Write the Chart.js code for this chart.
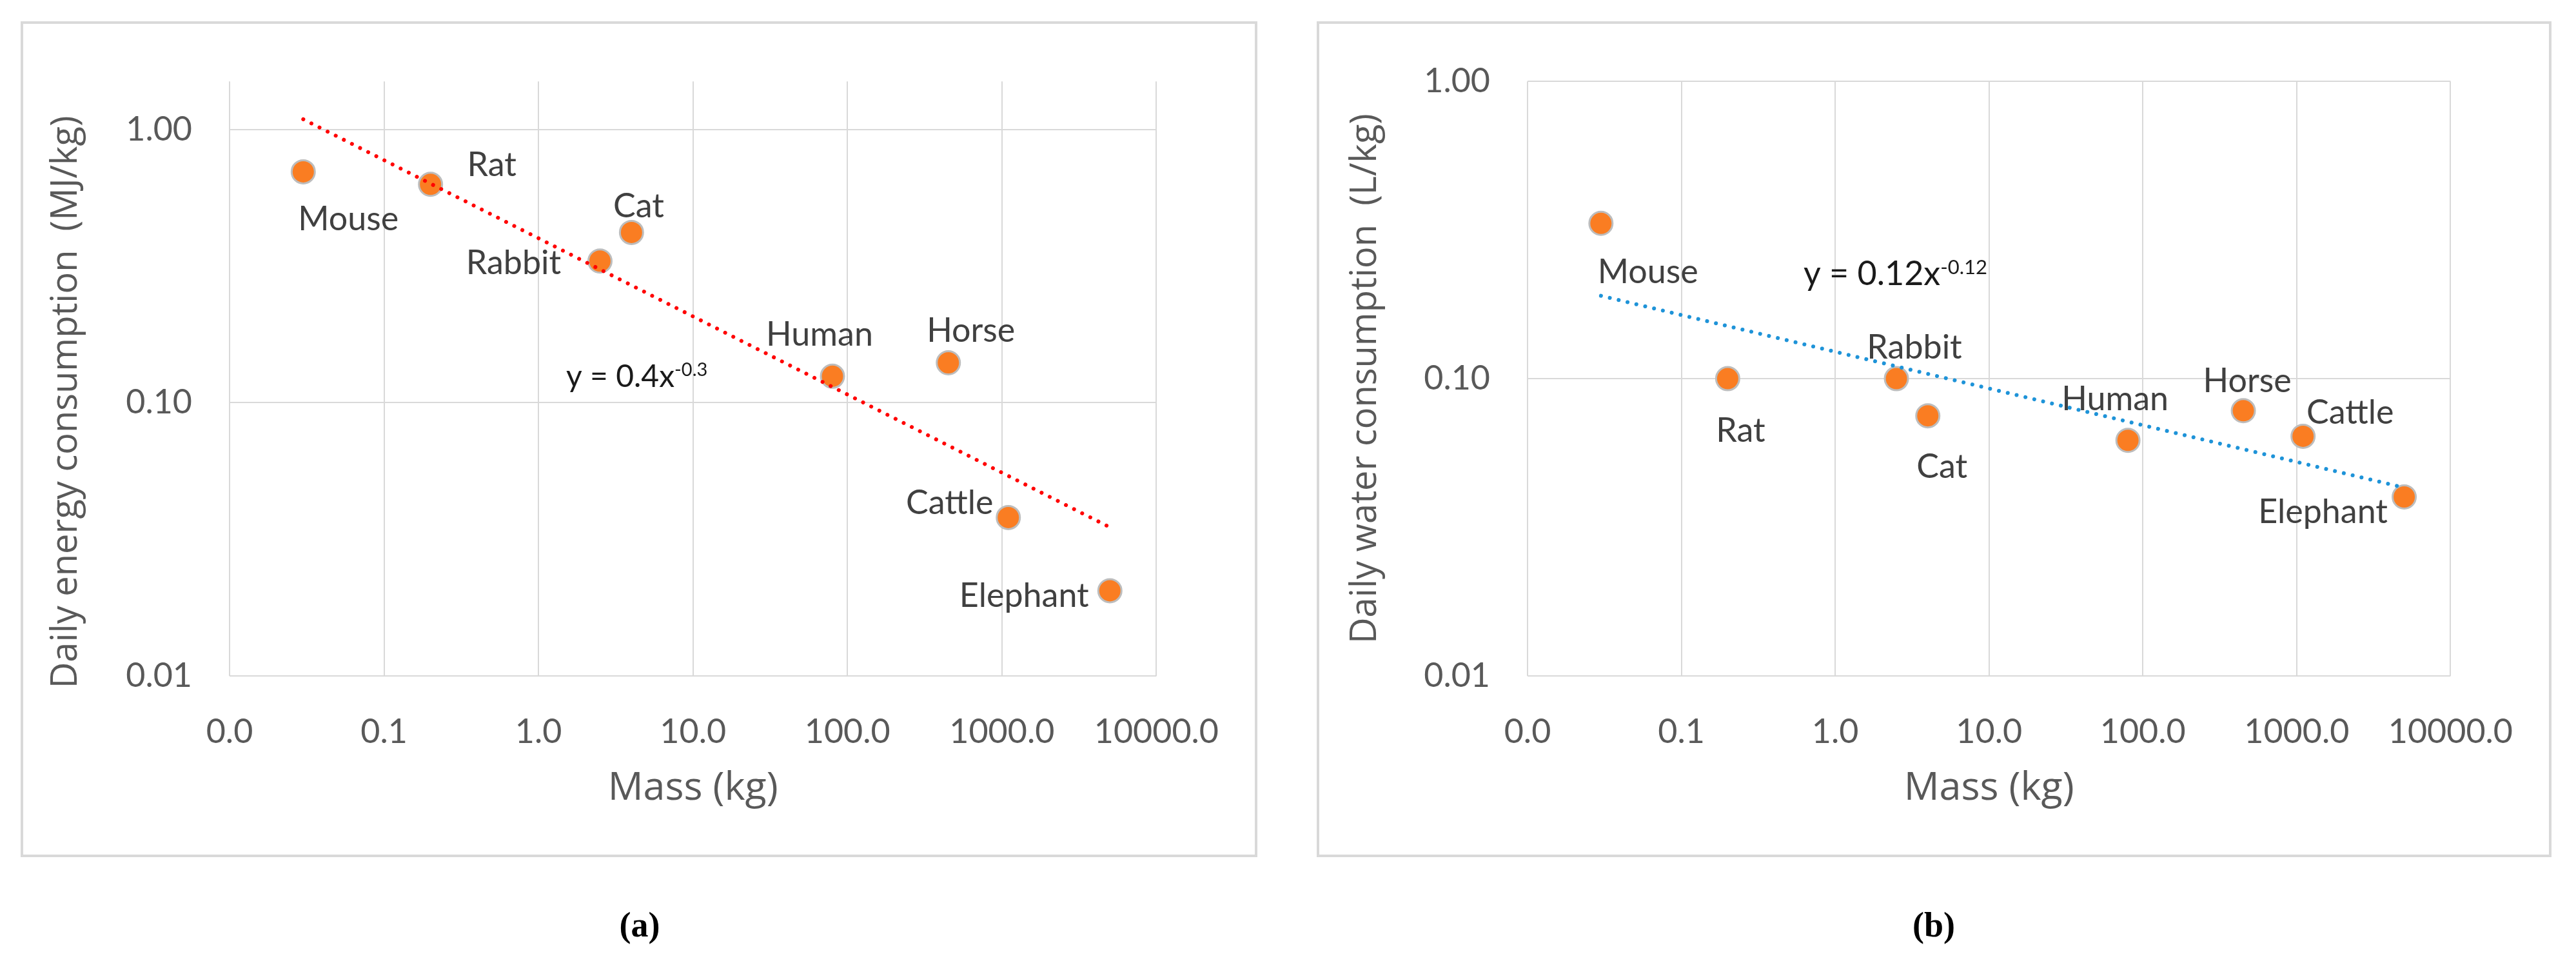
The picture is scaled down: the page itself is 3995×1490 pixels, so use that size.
<!DOCTYPE html>
<html>
<head>
<meta charset="utf-8">
<title>Daily energy and water consumption vs mass</title>
<script src="https://cdn.jsdelivr.net/npm/chart.js@4.4.1/dist/chart.umd.min.js"></script>
<style>
  html, body { margin: 0; padding: 0; background: #fff; }
  body { width: 3995px; height: 1490px; position: relative; overflow: hidden; }
  .panel { position: absolute; top: 33px; height: 1296px; border: 4px solid #d9d9d9; box-sizing: border-box; }
  #panelA { left: 32px; width: 1918px; }
  #panelB { left: 2042px; width: 1915px; }
  .panel canvas { position: absolute; left: 0; top: 0; }
  .caption { position: absolute; top: 1403px; width: 200px; line-height: 60px; text-align: center;
             font: bold 54px "Liberation Serif", "DejaVu Serif", serif; color: #000; }
</style>
</head>
<body>
<div class="panel" id="panelA"><canvas id="chartA" width="1910" height="1288"></canvas></div>
<div class="panel" id="panelB"><canvas id="chartB" width="1907" height="1288"></canvas></div>
<div class="caption" style="left:892px">(a)</div>
<div class="caption" style="left:2899px">(b)</div>

<script>
// values
const animals = ["Mouse", "Rat", "Rabbit", "Cat", "Human", "Horse", "Cattle", "Elephant"];
const massKg = [0.03, 0.2, 2.5, 4, 80, 450, 1100, 5000];
const energyMJperKg = [0.70, 0.63, 0.33, 0.42, 0.125, 0.14, 0.038, 0.0205];
const waterLperKg = [0.333, 0.10, 0.10, 0.075, 0.062, 0.078, 0.064, 0.040];

// power trendlines, end points as drawn
const trendX = [0.03, 5000];
const energyTrendY = [1.09, 0.035];
const waterTrendY = [0.19, 0.043];

const xTicks = [0.01, 0.1, 1, 10, 100, 1000, 10000];
const yTicks = [0.01, 0.1, 1];

// label placement (pixel offset of label centre from its point)
const labelOffsetA = [[70, 74], [95, -30], [-134, 3], [11, -40], [-20, -64], [35, -49], [-91, -22], [-133, 8]];
const labelOffsetB = [[73, 76], [20, 81], [28, -48], [22, 80], [-20, -64], [6, -46], [73, -36], [-126, 24]];

const FONT = "Lato, 'Open Sans', sans-serif";
const TITLE_FONT = "'Open Sans', Lato, sans-serif";
const GRID = "#d9d9d9";
const AXIS_TEXT = "#595959";

const pointLabels = {
  id: "pointLabels",
  beforeDatasetsDraw(chart, args, opts) {
    const ctx = chart.ctx;
    const meta = chart.getDatasetMeta(0);
    ctx.save();
    ctx.font = "52px " + FONT;
    ctx.fillStyle = "#404040";
    ctx.textAlign = "center";
    ctx.textBaseline = "middle";
    meta.data.forEach((pt, i) => {
      const [dx, dy] = opts.offsets[i];
      ctx.fillText(animals[i], pt.x + dx, pt.y + dy);
    });
    ctx.restore();
  },
  afterDatasetsDraw(chart, args, opts) {
    const eq = opts.equation;
    const ctx = chart.ctx;
    ctx.save();
    ctx.fillStyle = "#1a1a1a";
    ctx.textAlign = "left";
    ctx.textBaseline = "alphabetic";
    ctx.font = eq.size + "px " + FONT;
    ctx.fillText(eq.text, eq.x, eq.y);
    const w = ctx.measureText(eq.text).width;
    ctx.font = eq.supSize + "px " + FONT;
    ctx.fillText(eq.sup, eq.x + w, eq.y - eq.rise);
    ctx.restore();
  }
};

function makeChart(id, yValues, trendY, cfg) {
  return new Chart(document.getElementById(id), {
    type: "scatter",
    data: {
      datasets: [
        {
          label: "data",
          data: massKg.map((x, i) => ({ x: x, y: yValues[i] })),
          backgroundColor: "#fa7d22",
          borderColor: "#bdbdbd",
          borderWidth: 3,
          pointRadius: 18,
          pointHoverRadius: 18,
          order: 2
        },
        {
          label: "trend",
          data: trendX.map((x, i) => ({ x: x, y: trendY[i] })),
          showLine: true,
          borderColor: cfg.trendColor,
          borderWidth: 6,
          borderDash: [0.1, 14],
          borderCapStyle: "round",
          pointRadius: 0,
          pointHoverRadius: 0,
          order: 1
        }
      ]
    },
    options: {
      responsive: false,
      devicePixelRatio: 1,
      animation: false,
      layout: { padding: cfg.padding },
      plugins: {
        legend: { display: false },
        tooltip: { enabled: false },
        pointLabels: { offsets: cfg.offsets, equation: cfg.equation }
      },
      scales: {
        x: {
          type: "logarithmic",
          min: 0.01,
          max: 10000,
          afterBuildTicks: (s) => { s.ticks = xTicks.map((v) => ({ value: v })); },
          afterFit: (s) => { s.height = 277; },
          ticks: {
            callback: (v) => Number(v).toFixed(1),
            font: { family: FONT, size: 52 },
            color: AXIS_TEXT,
            padding: 56,
            maxRotation: 0,
            autoSkip: false
          },
          grid: { color: GRID, lineWidth: 2, drawTicks: false },
          border: { display: false },
          title: {
            display: true,
            text: "Mass (kg)",
            font: { family: TITLE_FONT, size: 61 },
            color: AXIS_TEXT,
            padding: { top: 0, bottom: 66 }
          }
        },
        y: {
          type: "logarithmic",
          min: 0.01,
          max: cfg.yMax,
          afterBuildTicks: (s) => { s.ticks = yTicks.map((v) => ({ value: v })); },
          afterFit: (s) => { s.width = cfg.yWidth; },
          ticks: {
            callback: (v) => Number(v).toFixed(2),
            font: { family: FONT, size: 52 },
            color: AXIS_TEXT,
            padding: 58
          },
          grid: { color: GRID, lineWidth: 2, drawTicks: false },
          border: { display: false },
          title: {
            display: true,
            text: cfg.yTitle,
            font: { family: TITLE_FONT, size: 56 },
            color: AXIS_TEXT,
            padding: { top: cfg.yTitlePad, bottom: 0 }
          }
        }
      }
    },
    plugins: [pointLabels]
  });
}

makeChart("chartA", energyMJperKg, energyTrendY, {
  trendColor: "#ff0000",
  padding: { left: 0, top: 58, right: 141, bottom: 0 },
  yMax: 1.5,
  yWidth: 320,
  yTitle: "Daily energy consumption  (MJ/kg)\u00a0\u00a0\u00a0\u00a0\u00a0",
  yTitlePad: 33,
  offsets: labelOffsetA,
  equation: { text: "y = 0.4x", sup: "-0.3", x: 842, y: 563, size: 48, supSize: 29, rise: 17 }
});

makeChart("chartB", waterLperKg, waterTrendY, {
  trendColor: "#1e93d8",
  padding: { left: 0, top: 59, right: 129, bottom: 0 },
  yMax: 1,
  yWidth: 323,
  yTitle: "Daily water consumption  (L/kg)",
  yTitlePad: 38,
  offsets: labelOffsetB,
  equation: { text: "y = 0.12x", sup: "-0.12", x: 751, y: 405, size: 52, supSize: 31, rise: 17 }
});
</script>
</body>
</html>
